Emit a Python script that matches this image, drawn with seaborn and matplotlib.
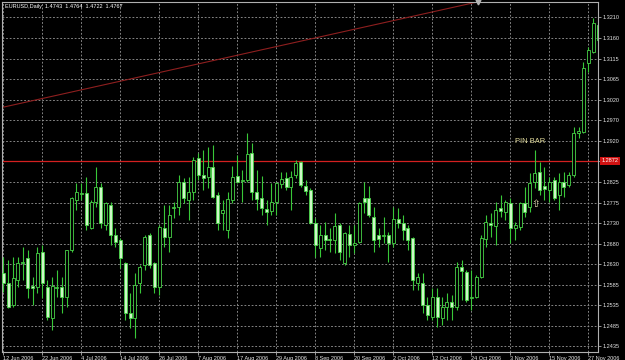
import numpy as np
import pandas as pd
import matplotlib
matplotlib.use("Agg")
import matplotlib.pyplot as plt
import seaborn as sns

# ---------------- data ----------------
symbol_title = "EURUSD,Daily  1.4743  1.4764  1.4722  1.4767"
start_date = "2006-06-12"

opens = [1.2608, 1.2585, 1.2533, 1.2592, 1.2632, 1.2643, 1.2578, 1.2575, 1.2658, 1.2575,
         1.2502, 1.2573, 1.2575, 1.2552, 1.2662, 1.2780, 1.2794, 1.2797, 1.2714, 1.2775,
         1.2811, 1.2721, 1.2768, 1.2698, 1.2686, 1.2632, 1.2514, 1.2502, 1.2585, 1.2627,
         1.2698, 1.2632, 1.2575, 1.2714, 1.2693, 1.2762, 1.2764, 1.2822, 1.2780, 1.2799,
         1.2879, 1.2839, 1.2834, 1.2858, 1.2792, 1.2749, 1.2709, 1.2780, 1.2837, 1.2825,
         1.2827, 1.2891, 1.2799, 1.2785, 1.2759, 1.2754, 1.2775, 1.2818, 1.2832, 1.2811,
         1.2839, 1.2870, 1.2813, 1.2804, 1.2726, 1.2667, 1.2698, 1.2688, 1.2686, 1.2721,
         1.2632, 1.2700, 1.2674, 1.2681, 1.2785, 1.2785, 1.2740, 1.2698, 1.2695, 1.2698,
         1.2679, 1.2735, 1.2726, 1.2714, 1.2691, 1.2585, 1.2585, 1.2533, 1.2505, 1.2552,
         1.2502, 1.2528, 1.2540, 1.2528, 1.2622, 1.2611, 1.2549, 1.2552, 1.2599, 1.2688,
         1.2726, 1.2719, 1.2762, 1.2752, 1.2773, 1.2714, 1.2716, 1.2773, 1.2764, 1.2822,
         1.2846, 1.2813, 1.2804, 1.2827, 1.2792, 1.2822, 1.2815, 1.2839, 1.2938, 1.2940,
         1.3103, 1.3129, 1.3192]
highs = [1.2646, 1.2639, 1.2646, 1.2646, 1.2669, 1.2662, 1.2599, 1.2669, 1.2674, 1.2592,
         1.2599, 1.2615, 1.2599, 1.2662, 1.2787, 1.2820, 1.2820, 1.2834, 1.2780, 1.2858,
         1.2820, 1.2775, 1.2775, 1.2714, 1.2691, 1.2634, 1.2561, 1.2608, 1.2627, 1.2698,
         1.2702, 1.2634, 1.2721, 1.2768, 1.2768, 1.2775, 1.2839, 1.2832, 1.2834, 1.2881,
         1.2891, 1.2898, 1.2905, 1.2910, 1.2799, 1.2780, 1.2799, 1.2860, 1.2886, 1.2851,
         1.2938, 1.2914, 1.2851, 1.2837, 1.2780, 1.2820, 1.2822, 1.2846, 1.2846, 1.2848,
         1.2874, 1.2872, 1.2827, 1.2808, 1.2738, 1.2721, 1.2728, 1.2714, 1.2749, 1.2726,
         1.2705, 1.2721, 1.2721, 1.2775, 1.2822, 1.2813, 1.2764, 1.2714, 1.2740, 1.2705,
         1.2764, 1.2762, 1.2745, 1.2721, 1.2693, 1.2608, 1.2608, 1.2552, 1.2573, 1.2573,
         1.2552, 1.2561, 1.2556, 1.2634, 1.2639, 1.2615, 1.2615, 1.2604, 1.2698, 1.2745,
         1.2749, 1.2775, 1.2792, 1.2780, 1.2785, 1.2728, 1.2775, 1.2811, 1.2844, 1.2898,
         1.2870, 1.2858, 1.2834, 1.2834, 1.2844, 1.2846, 1.2846, 1.2952, 1.2952, 1.3105,
         1.3140, 1.3209, 1.3199]
lows = [1.2563, 1.2526, 1.2528, 1.2575, 1.2592, 1.2549, 1.2533, 1.2561, 1.2549, 1.2497,
        1.2474, 1.2552, 1.2514, 1.2528, 1.2658, 1.2757, 1.2780, 1.2709, 1.2712, 1.2764,
        1.2714, 1.2709, 1.2674, 1.2669, 1.2620, 1.2497, 1.2479, 1.2455, 1.2561, 1.2615,
        1.2620, 1.2561, 1.2556, 1.2669, 1.2658, 1.2738, 1.2745, 1.2773, 1.2733, 1.2780,
        1.2827, 1.2804, 1.2808, 1.2785, 1.2709, 1.2709, 1.2691, 1.2773, 1.2820, 1.2775,
        1.2822, 1.2780, 1.2757, 1.2745, 1.2721, 1.2745, 1.2745, 1.2808, 1.2804, 1.2757,
        1.2832, 1.2811, 1.2792, 1.2724, 1.2646, 1.2646, 1.2662, 1.2658, 1.2655, 1.2639,
        1.2627, 1.2646, 1.2655, 1.2679, 1.2749, 1.2740, 1.2658, 1.2669, 1.2679, 1.2634,
        1.2669, 1.2714, 1.2686, 1.2662, 1.2568, 1.2568, 1.2514, 1.2497, 1.2497, 1.2481,
        1.2486, 1.2497, 1.2497, 1.2521, 1.2545, 1.2540, 1.2521, 1.2549, 1.2596, 1.2669,
        1.2693, 1.2674, 1.2740, 1.2733, 1.2679, 1.2686, 1.2709, 1.2740, 1.2752, 1.2808,
        1.2792, 1.2780, 1.2775, 1.2780, 1.2757, 1.2787, 1.2811, 1.2834, 1.2926, 1.2938,
        1.3082, 1.3126, 1.3152]
closes = [1.2585, 1.2528, 1.2596, 1.2632, 1.2634, 1.2573, 1.2573, 1.2655, 1.2585, 1.2505,
          1.2578, 1.2575, 1.2552, 1.2662, 1.2785, 1.2799, 1.2797, 1.2721, 1.2775, 1.2811,
          1.2726, 1.2773, 1.2698, 1.2681, 1.2643, 1.2514, 1.2502, 1.2580, 1.2622, 1.2693,
          1.2627, 1.2575, 1.2716, 1.2693, 1.2745, 1.2764, 1.2822, 1.2785, 1.2799, 1.2874,
          1.2839, 1.2832, 1.2858, 1.2787, 1.2726, 1.2757, 1.2782, 1.2834, 1.2822, 1.2827,
          1.2888, 1.2799, 1.2782, 1.2762, 1.2752, 1.2775, 1.2820, 1.2830, 1.2811, 1.2834,
          1.2867, 1.2815, 1.2801, 1.2726, 1.2674, 1.2698, 1.2686, 1.2686, 1.2719, 1.2658,
          1.2702, 1.2674, 1.2679, 1.2773, 1.2775, 1.2745, 1.2686, 1.2688, 1.2698, 1.2679,
          1.2735, 1.2726, 1.2709, 1.2686, 1.2592, 1.2599, 1.2533, 1.2509, 1.2552, 1.2505,
          1.2528, 1.2540, 1.2528, 1.2622, 1.2613, 1.2545, 1.2552, 1.2599, 1.2691, 1.2728,
          1.2721, 1.2757, 1.2754, 1.2775, 1.2714, 1.2721, 1.2773, 1.2752, 1.2820, 1.2844,
          1.2804, 1.2806, 1.2822, 1.2785, 1.2822, 1.2811, 1.2839, 1.2938, 1.2943, 1.3091,
          1.3133, 1.3197, 1.3157]

date_labels = ["12 Jun 2006", "22 Jun 2006", "4 Jul 2006", "14 Jul 2006", "26 Jul 2006",
               "7 Aug 2006", "17 Aug 2006", "29 Aug 2006", "8 Sep 2006", "20 Sep 2006",
               "2 Oct 2006", "12 Oct 2006", "24 Oct 2006", "3 Nov 2006", "15 Nov 2006",
               "27 Nov 2006"]
price_labels = ["1.2435", "1.2485", "1.2535", "1.2585", "1.2630", "1.2680", "1.2730",
                "1.2775", "1.2825", "", "1.2920", "1.2970", "1.3020", "1.3065", "1.3115",
                "1.3160", "1.3210"]
price_axis_low, price_axis_high = 1.2435, 1.3210

level_price = 1.2872
level_label = "1.2872"
trend_bars = [-0.7, 97.4]
trend_prices = [1.2997, 1.3247]
pin_text = "PIN BAR"
pin_text_bar, pin_text_price = 108.0, 1.2917
arrow_bar, arrow_price = 109.1, 1.2771

# ---------------- styling ----------------
sns.set_theme(style="dark", rc={"axes.facecolor": "black", "figure.facecolor": "black"})
plt.rcParams["font.family"] = ["Liberation Sans", "DejaVu Sans"]

WICK = "#38c838"
EDGE = "#48d448"
BEAR_FILL = "#cdf7c6"
GRID = "#8e8e8e"
TXT = "#e6e6e6"

n = len(opens)
df = pd.DataFrame({
    "date": pd.bdate_range(start_date, periods=n),
    "open": opens, "high": highs, "low": lows, "close": closes,
})
df["x"] = np.arange(n)
bull = df["close"] >= df["open"]

fig = plt.figure(figsize=(6.25, 3.6), dpi=100, facecolor="black")
ax = fig.add_axes([2 / 625, 8 / 360, 596 / 625, 350 / 360])
ax.set_facecolor("black")

# grid
xt = np.arange(0, 8 * len(date_labels), 8)
yt = np.linspace(price_axis_low, price_axis_high, len(price_labels))
ax.set_xticks(xt)
ax.set_xticklabels(date_labels, ha="left")
ax.set_yticks(yt)
ax.set_yticklabels(price_labels)
ax.grid(True, color=GRID, linestyle=(0, (2, 2)), linewidth=0.65, zorder=0)
ax.set_axisbelow(True)

# level line
ax.axhline(level_price, color="#d42020", lw=0.9, zorder=2)

# trend line
sns.lineplot(x=trend_bars, y=trend_prices, ax=ax, color="#8e1f1f", lw=0.8, zorder=2)

# candles
ax.vlines(df["x"], df["low"], df["high"], color=WICK, lw=0.8, zorder=3)
ax.bar(df["x"], (df["close"] - df["open"]).abs(),
       bottom=np.minimum(df["open"], df["close"]), width=0.62,
       color=np.where(bull, "black", BEAR_FILL), edgecolor=EDGE,
       linewidth=0.6, zorder=4)

# annotations
ax.text(pin_text_bar, pin_text_price, pin_text, color="#e3dc9c", fontsize=5.4,
        ha="center", va="center", zorder=5)
ax.text(arrow_bar, arrow_price, "\u21e7", color="#e8e0b0", fontsize=7.5,
        ha="center", va="center", zorder=5,
        family=["DejaVu Sans"])

x_left, x_right = -0.27, 121.99
y_low, y_high = 1.2422, 1.32465
ax.set_xlim(x_left, x_right)
ax.set_ylim(y_low, y_high)

# chart-shift marker at top
ax.plot([trend_bars[1]], [y_high], marker="v", ms=3.5, color="#b4b4b4",
        clip_on=False, zorder=6, lw=0)

# level label on price axis
ax.text(1.006, level_price, level_label, transform=ax.get_yaxis_transform(),
        ha="left", va="center", fontsize=4, color="white", zorder=6,
        bbox=dict(boxstyle="square,pad=0.25", fc="#d01212", ec="none"))

# axes styling
ax.yaxis.tick_right()
ax.tick_params(axis="y", length=2, width=0.6, pad=1.2, labelsize=4,
               colors=TXT, color="#b0b0b0", right=True, left=False)
ax.tick_params(axis="x", length=2, width=0.6, pad=1, labelsize=4,
               colors=TXT, color="#b0b0b0", bottom=True)
for sp in ax.spines.values():
    sp.set_visible(True)
    sp.set_color("#b0b0b0")
    sp.set_linewidth(0.8)
ax.set_xlabel("")
ax.set_ylabel("")
if ax.get_legend():
    ax.get_legend().remove()

fig.text(5 / 625, 1 - 6.5 / 360, symbol_title, fontsize=4, color="white",
         ha="left", va="center")

fig.savefig("out.png", dpi=100, facecolor="black")
